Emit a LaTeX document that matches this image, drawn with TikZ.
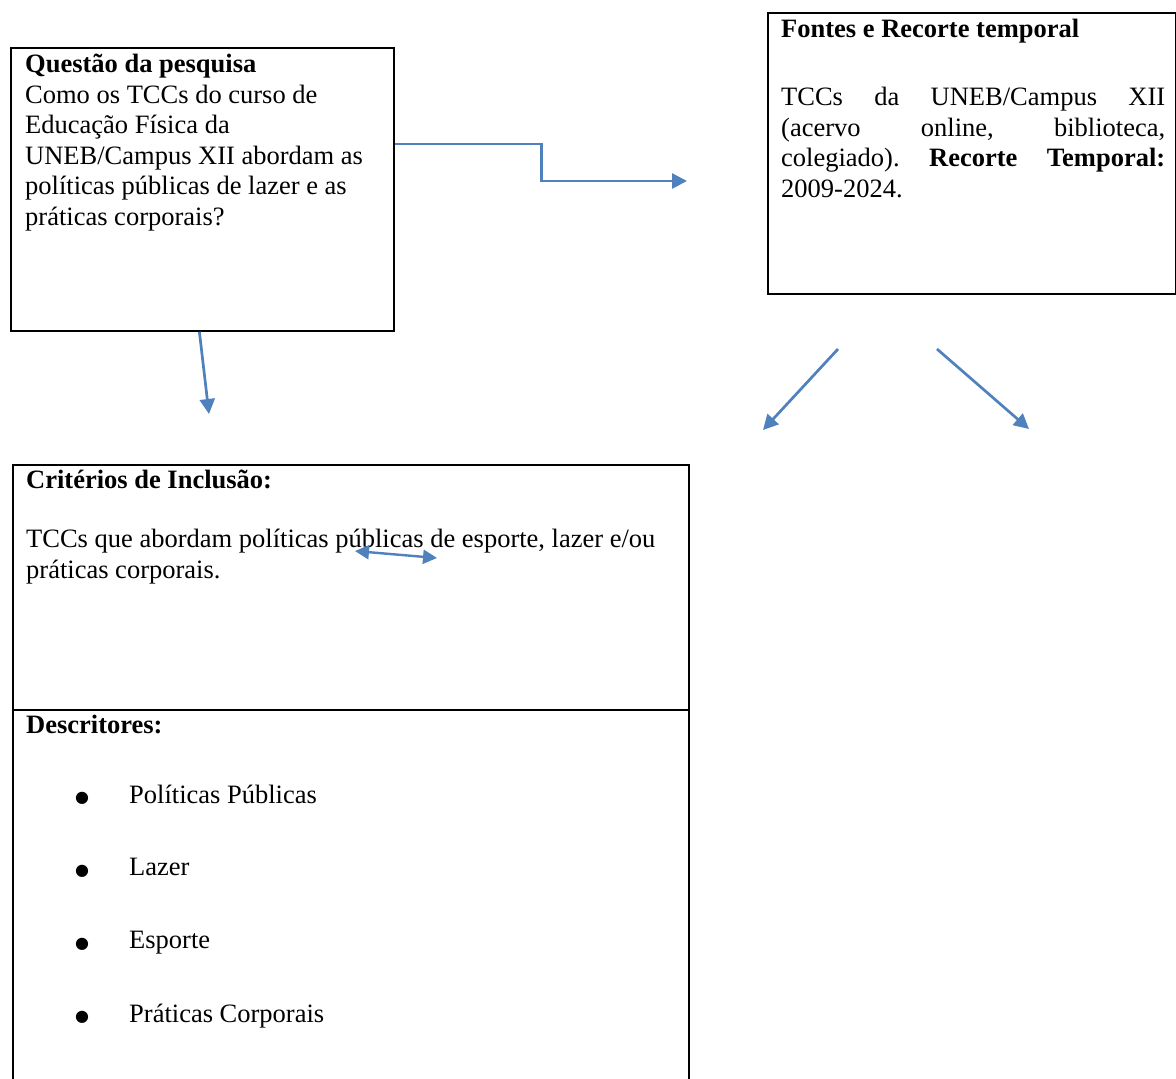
\documentclass[tikz,border=0pt]{standalone}
\usepackage{fontspec}
\setmainfont{Liberation Serif}
\newfontfamily\simbolos{DejaVu Sans}
\usetikzlibrary{arrows.meta}
\definecolor{azulseta}{RGB}{79,129,189}
\frenchspacing
\tikzset{
    caixa/.style={draw=black, line width=1.8pt, anchor=north west, inner sep=0pt},
    seta/.style={draw=azulseta, line width=2.7pt, -{Triangle[length=15pt,width=15pt]}},
    texto/.style={anchor=north west, inner sep=0pt, font=\fontsize{26.5}{30.5}\selectfont, align=left},
    marcador/.style={anchor=center, inner sep=0pt, font=\simbolos\fontsize{16}{16}\selectfont},
}
\begin{document}
\begin{tikzpicture}[x=1pt,y=-1pt]
    \clip (0,0) rectangle (1176,1079);
    \fill[white] (0,0) rectangle (1176,1079);

    % caixas
    \node[caixa, minimum width=383pt, minimum height=283pt] (questao) at (10,47) {};
    \node[caixa, minimum width=408pt, minimum height=281pt] (fontes) at (767,12) {};
    \node[caixa, minimum width=676pt, minimum height=700pt] (criterios) at (12,464) {};
    \draw[black, line width=1.8pt] ([yshift=-246pt]criterios.north west) -- ([yshift=-246pt]criterios.north east);

    % textos
    \node[texto] (tquestao) at (25,54) {\textbf{Questão da pesquisa}\\Como os TCCs do curso de\\Educação Física da\\UNEB/Campus XII abordam as\\políticas públicas de lazer e as\\práticas corporais?};
    \node[texto] (tfontes) at (781,19) {\textbf{Fontes e Recorte temporal}};
    \node[texto, text width=384pt, align=justify] (pfontes) at (781,87) {TCCs da UNEB/Campus XII\linebreak (acervo online, biblioteca,\linebreak colegiado). \textbf{Recorte Temporal:}\linebreak 2009-2024.};
    \node[texto] (tcriterios) at (26,470) {\textbf{Critérios de Inclusão:}};
    \node[texto] (pcriterios) at (26,529) {TCCs que abordam políticas públicas de esporte, lazer e/ou\\práticas corporais.};
    \node[texto] (tdescritores) at (26,715) {\textbf{Descritores:}};
    \foreach \item [count=\i] in {Políticas Públicas, Lazer, Esporte, Práticas Corporais} {
        \node[marcador] (marca\i) at (82,725+73*\i) {●};
        \node[texto] (desc\i) at (129,712+73*\i) {\item};
    }

    % setas
    \coordinate (fim1) at (687,181);
    \coordinate (fim2) at (209,414);
    \coordinate (ini3) at (838,349);
    \coordinate (fim3) at (763,430);
    \coordinate (ini4) at (937,349);
    \coordinate (fim4) at (1029,429);
    \coordinate (ponta1) at (355,551);
    \coordinate (ponta2) at (437,558);
    \draw[seta] ([yshift=-97pt]questao.north east) -- ++(147,0) -- ++(0,37) -- (fim1);
    \draw[seta] ([xshift=-3pt]questao.south) -- (fim2);
    \draw[seta] (ini3) -- (fim3);
    \draw[seta] (ini4) -- (fim4);
    \draw[seta, line width=2.4pt, {Triangle[length=14pt,width=14pt]}-{Triangle[length=14pt,width=14pt]}] (ponta1) -- (ponta2);
\end{tikzpicture}
\end{document}
